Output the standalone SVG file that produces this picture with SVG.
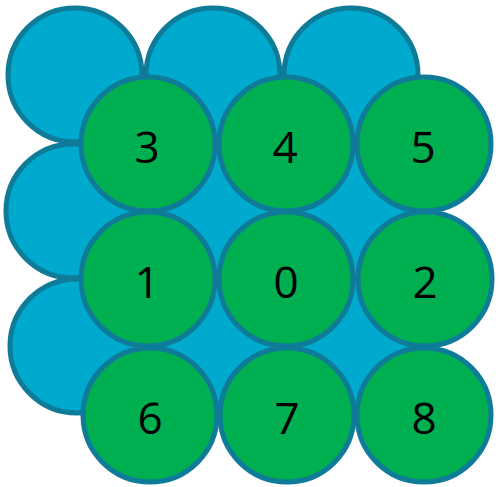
<svg xmlns="http://www.w3.org/2000/svg" width="500" height="487" viewBox="0 0 500 487">
<style>
.b{fill:#00AACE;stroke:#0E7B98;stroke-width:5}
.g{fill:#00B050;stroke:#0E7B98;stroke-width:5}
text{font-family:"Open Sans","Liberation Sans",sans-serif;font-size:44px;fill:#000;text-anchor:middle;dominant-baseline:central}
</style>
<rect width="500" height="487" fill="#fff"/>
<g id="blue">
<circle class="b" cx="75" cy="75" r="67"/>
<circle class="b" cx="213" cy="75" r="67"/>
<circle class="b" cx="351" cy="75" r="67"/>
<circle class="b" cx="73" cy="211" r="67"/>
<circle class="b" cx="213" cy="211" r="67"/>
<circle class="b" cx="351" cy="211" r="67"/>
<circle class="b" cx="77" cy="346" r="67"/>
<circle class="b" cx="213" cy="346" r="67"/>
<circle class="b" cx="351" cy="346" r="67"/>
</g>
<g id="connectors"></g>
<g id="n3"><circle class="g" cx="148" cy="144" r="67"/><text x="147" y="146">3</text></g>
<g id="n4"><circle class="g" cx="286" cy="144" r="67"/><text x="285" y="146">4</text></g>
<g id="n5"><circle class="g" cx="424" cy="144" r="67"/><text x="423" y="146">5</text></g>
<g id="n1"><circle class="g" cx="148" cy="279" r="67"/><text x="147" y="281">1</text></g>
<g id="n0"><circle class="g" cx="286" cy="279" r="67"/><text x="286" y="281">0</text></g>
<g id="n2"><circle class="g" cx="425" cy="279" r="67"/><text x="425" y="281">2</text></g>
<g id="n6"><circle class="g" cx="150" cy="415" r="67"/><text x="150" y="417">6</text></g>
<g id="n7"><circle class="g" cx="287" cy="415" r="67"/><text x="287" y="417">7</text></g>
<g id="n8"><circle class="g" cx="424" cy="415" r="67"/><text x="424" y="417">8</text></g>
</svg>
